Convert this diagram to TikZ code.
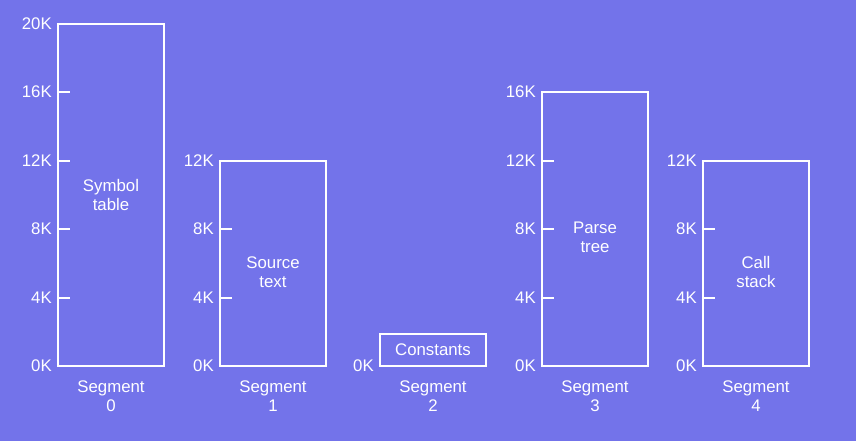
\documentclass[tikz,border=0pt]{standalone}
\usepackage{fontspec}
\setmainfont{Liberation Sans}
\definecolor{bgblue}{RGB}{115,115,234}
\tikzset{
  segbox/.style={draw=white, line width=1.5pt},
  segtick/.style={draw=white, line width=1.5pt},
  wtext/.style={text=white, font=\fontsize{12.6}{14.3}\selectfont, align=center, inner sep=0pt},
  ticklbl/.style={wtext, anchor=east},
  segname/.style={wtext, anchor=north, yshift=-11pt}
}
\begin{document}
\begin{tikzpicture}[x=0.75pt,y=0.75pt]
\fill[bgblue] (0,0) rectangle (856,441);
\useasboundingbox (0,0) rectangle (856,441);

% Segment 0: symbol table, 20K
\begin{scope}[shift={(58,75)}, y=12.84pt]
\draw[segbox] (0,0) rectangle (106,20);
\foreach \k in {4,8,12,16} \draw[segtick] (0,\k) -- (12,\k);
\foreach \k in {0,4,...,20} \node[ticklbl] (t0-\k) at (-6,\k) {\k K};
\node[wtext] (symtab) at (53,10) {Symbol\\table};
\node[segname] (seg0) at (53,0) {Segment\\0};
\end{scope}

% Segment 1: source text, 12K
\begin{scope}[shift={(220,75)}, y=12.84pt]
\draw[segbox] (0,0) rectangle (106,12);
\foreach \k in {4,8} \draw[segtick] (0,\k) -- (12,\k);
\foreach \k in {0,4,...,12} \node[ticklbl] (t1-\k) at (-6,\k) {\k K};
\node[wtext] (srctext) at (53,5.5) {Source\\text};
\node[segname] (seg1) at (53,0) {Segment\\1};
\end{scope}

% Segment 2: constants
\begin{scope}[shift={(380,75)}, y=12.84pt]
\draw[segbox] (0,0) rectangle (106,1.87);
\node[ticklbl] (t2-0) at (-6,0) {0K};
\node[wtext] (consts) at (53,0.93) {Constants};
\node[segname] (seg2) at (53,0) {Segment\\2};
\end{scope}

% Segment 3: parse tree, 16K
\begin{scope}[shift={(542,75)}, y=12.84pt]
\draw[segbox] (0,0) rectangle (106,16);
\foreach \k in {4,8,12} \draw[segtick] (0,\k) -- (12,\k);
\foreach \k in {0,4,...,16} \node[ticklbl] (t3-\k) at (-6,\k) {\k K};
\node[wtext] (ptree) at (53,7.5) {Parse\\tree};
\node[segname] (seg3) at (53,0) {Segment\\3};
\end{scope}

% Segment 4: call stack, 12K
\begin{scope}[shift={(703,75)}, y=12.84pt]
\draw[segbox] (0,0) rectangle (106,12);
\foreach \k in {4,8} \draw[segtick] (0,\k) -- (12,\k);
\foreach \k in {0,4,...,12} \node[ticklbl] (t4-\k) at (-6,\k) {\k K};
\node[wtext] (cstack) at (53,5.5) {Call\\stack};
\node[segname] (seg4) at (53,0) {Segment\\4};
\end{scope}
\end{tikzpicture}
\end{document}
